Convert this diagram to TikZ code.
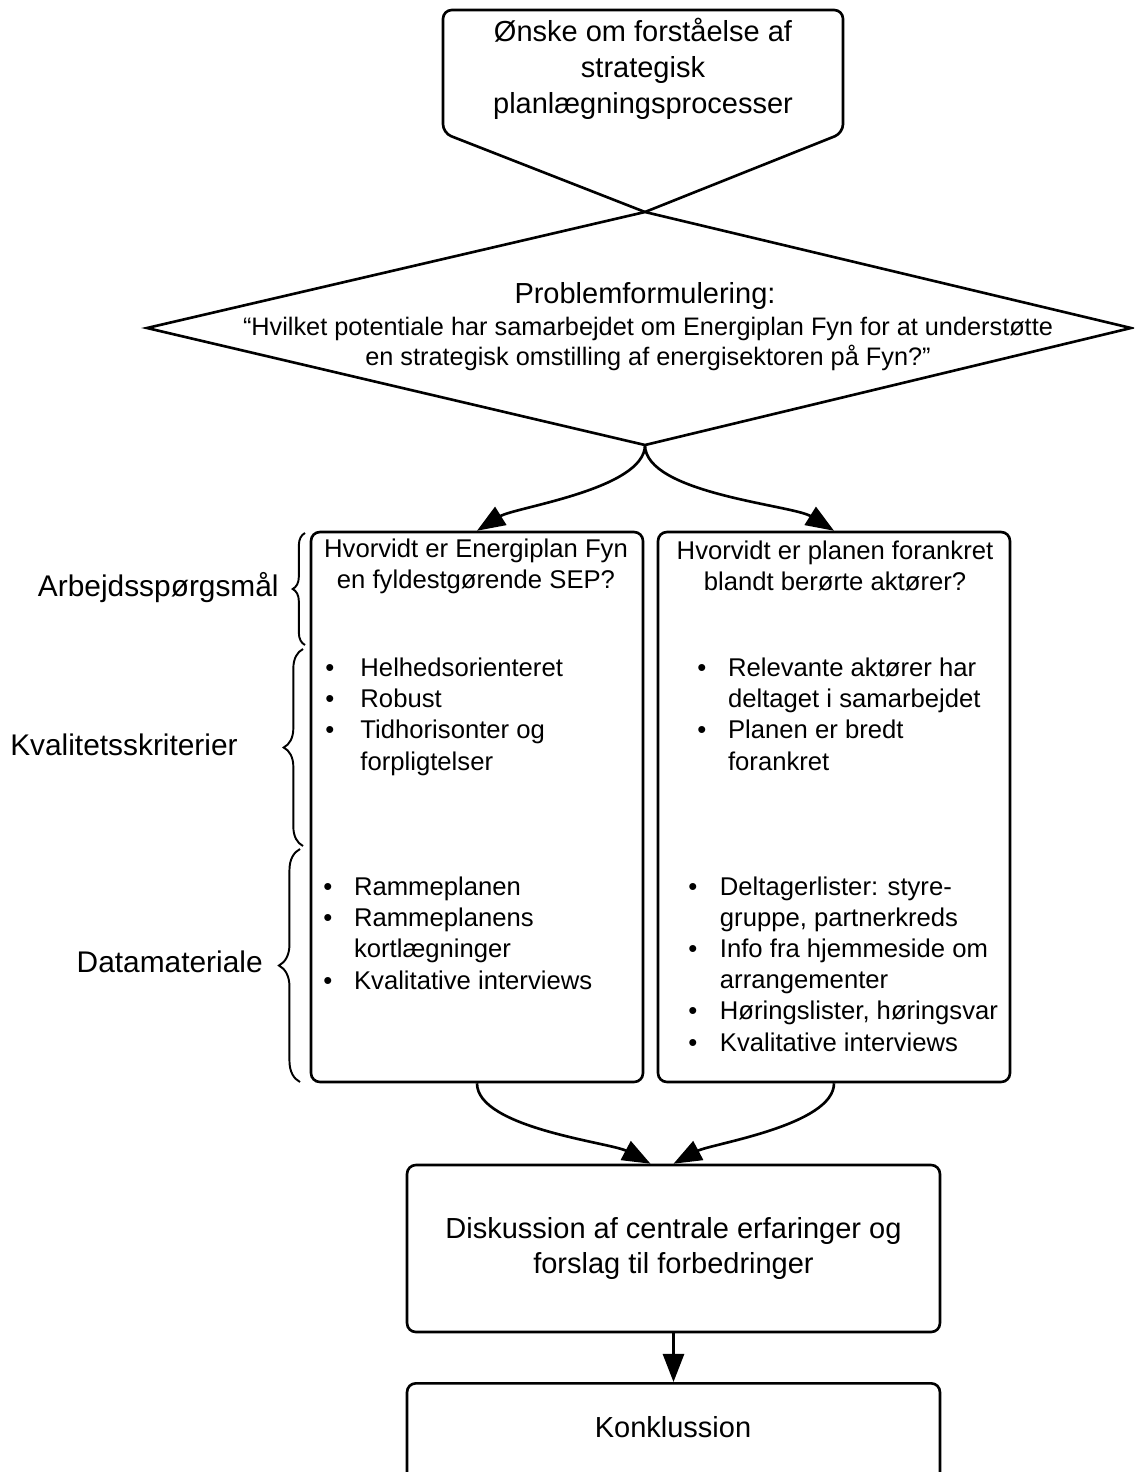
\documentclass[tikz,border=0pt]{standalone}
\usepackage{fontspec}
\setmainfont{Liberation Sans}
\usetikzlibrary{positioning,calc,arrows.meta,decorations.pathreplacing}

% bullet and hanging indent for the lists
\newcommand{\itm}[1][17.5pt]{\makebox[#1][l]{•}}
\newcommand{\ind}[1][17.5pt]{\hspace*{#1}}

\tikzset{
  box/.style={draw, line width=1.5pt, rounded corners=5pt, inner sep=0pt},
  flow/.style={line width=1.5pt, -{Triangle[length=16pt,width=12pt]}},
  brc/.style={line width=1.1pt, decorate, decoration={brace, amplitude=#1}},
  lbl/.style={font=\fontsize{17}{20}\selectfont, inner sep=0pt, anchor=east},
  big/.style={font=\fontsize{16.5}{20.4}\selectfont, inner sep=0pt, align=center},
  txt/.style={font=\fontsize{14.6}{17.7}\selectfont, inner sep=0pt, align=left},
}

\begin{document}
\begin{tikzpicture}[x=0.02cm, y=-0.02cm]
  \useasboundingbox (0,0) rectangle (1134,1472);
  \clip (0,0) rectangle (1134,1472);
  \fill[white] (0,0) rectangle (1134,1472);

  % start
  \node[big] (onske) at (643,69) {Ønske om forståelse af\\strategisk\\planlægningsprocesser};
  \draw[line width=1.5pt, rounded corners=5pt] (645,212) -- (443,133) -- (443,10) -- (843,10) -- (843,133) -- (645,212);

  % problem statement
  \coordinate (dtop) at (645,212);
  \coordinate (dright) at (1131,328);
  \coordinate (dbot) at (645,445);
  \coordinate (dleft) at (147,328);
  \draw[line width=1.5pt] (dtop) -- (dright) -- (dbot) -- (dleft) -- cycle;
  \node[big] (probhead) at (645,296) {Problemformulering:};
  \node[font=\fontsize{14.4}{17.2}\selectfont, align=center, inner sep=0pt] (probq) at (648,344)
    {“Hvilket potentiale har samarbejdet om Energiplan Fyn for at understøtte\\en strategisk omstilling af energisektoren på Fyn?”};

  % the two working questions
  \node[box, minimum width=6.64cm, minimum height=11cm] (lbox) at (477,807) {};
  \node[box, minimum width=7.04cm, minimum height=11cm] (rbox) at (834,807) {};
  \draw[flow] (dbot) to[out=-90,in=32,looseness=0.6] (lbox.north);
  \draw[flow] (dbot) to[out=-90,in=148,looseness=0.6] (rbox.north);

  \node[txt, align=center] (lq) at (476,566) {Hvorvidt er Energiplan Fyn\\en fyldestgørende SEP?};
  \node[txt, align=center] (rq) at (835,566) {Hvorvidt er planen forankret\\blandt berørte aktører?};

  \node[txt, anchor=base west] (lkrit) at (325,770) {\itm[20pt]Helhedsorienteret\\\itm[20pt]Robust\\\itm[20pt]Tidhorisonter og\\\ind[20pt]forpligtelser};
  \node[txt, anchor=base west] (ldata) at (323,989) {\itm Rammeplanen\\\itm Rammeplanens\\\ind kortlægninger\\\itm Kvalitative interviews};
  \node[txt, anchor=base west] (rkrit) at (697,770) {\itm Relevante aktører har\\\ind deltaget i samarbejdet\\\itm Planen er bredt\\\ind forankret};
  \node[txt, anchor=base west] (rdata) at (688,1051) {\itm[18pt]Deltagerlister: styre-\\\ind[18pt]gruppe, partnerkreds\\\itm[18pt]Info fra hjemmeside om\\\ind[18pt]arrangementer\\\itm[18pt]Høringslister, høringsvar\\\itm[18pt]Kvalitative interviews};

  % braces on the left
  \draw[brc=7pt] (305,645) -- (305,533);
  \draw[brc=11pt] (303,846) -- (303,649);
  \draw[brc=12pt] (300,1082) -- (300,849);
  \node[lbl] (arb) at (279,588) {Arbejdsspørgsmål};
  \node[lbl] (kval) at (238,745) {Kvalitetsskriterier};
  \node[lbl] (data) at (263,962) {Datamateriale};

  % discussion and conclusion
  \node[box, big, minimum width=10.66cm, minimum height=3.34cm] (disk) at (673.5,1248.5) {Diskussion af centrale erfaringer og\\forslag til forbedringer};
  \draw[flow] (lbox.south) to[out=-90,in=152,looseness=0.6] ($(disk.north)+(-23,0)$);
  \draw[flow] (rbox.south) to[out=-90,in=28,looseness=0.6] (disk.north);

  \node[box, minimum width=10.66cm, minimum height=2.6cm, anchor=north] (konk) at (673.5,1382) {};
  \node[big] (konktxt) at (673,1427) {Konklussion};
  \draw[flow] (disk.south) -- (konk.north);
\end{tikzpicture}
\end{document}
